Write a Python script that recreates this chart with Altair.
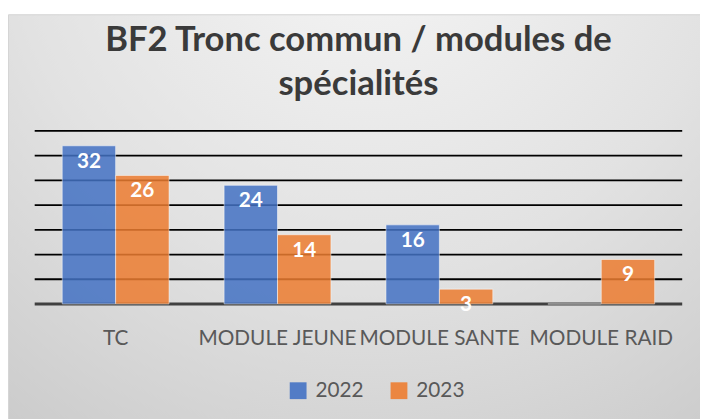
import altair as alt
import pandas as pd

categories = ["TC", "MODULE JEUNE", "MODULE SANTE", "MODULE RAID"]
years = ["2022", "2023"]
values_2022 = [32, 24, 16, 0]
values_2023 = [26, 14, 3, 9]
grid_values = [0, 5, 10, 15, 20, 25, 30, 35]
colors = ["#4472C4", "#ED7D31"]

rows = []
for i, c in enumerate(categories):
    rows.append({"cat": c, "year": years[0], "value": values_2022[i]})
    rows.append({"cat": c, "year": years[1], "value": values_2023[i]})
df = pd.DataFrame(rows)
grid_df = pd.DataFrame({"g": grid_values})

W, H = 655, 175

bg = alt.Chart(alt.Data(values=[{}])).mark_rect(
    fill=alt.RadialGradient(
        gradient="radial", x1=0.5, y1=0.05, r1=0, x2=0.5, y2=0.05, r2=1.0,
        stops=[alt.GradientStop(color="#f6f6f6", offset=0),
               alt.GradientStop(color="#e2e2e2", offset=0.5),
               alt.GradientStop(color="#c4c4c4", offset=1)]),
    stroke="#d4d4d4", strokeWidth=1,
).encode(x=alt.value(-26.5), x2=alt.value(700), y=alt.value(-117.5), y2=alt.value(320))

grid = alt.Chart(grid_df).mark_rule(color="#000000", strokeWidth=1.8).encode(
    y=alt.Y("g:Q", scale=alt.Scale(domain=[0, 35], nice=False), axis=None)
).transform_filter("datum.g > 0")

base_rule = alt.Chart(grid_df).mark_rule(color="#404040", strokeWidth=3).encode(
    y=alt.Y("g:Q", scale=alt.Scale(domain=[0, 35], nice=False), axis=None)
).transform_filter("datum.g == 0")

x_enc = alt.X("cat:N", sort=categories,
              scale=alt.Scale(paddingInner=0.34, paddingOuter=0.17),
              axis=alt.Axis(title=None, labelAngle=0, labelFont="Lato", labelFontSize=21,
                            labelColor="#595959", labelPadding=24, ticks=False, domain=False,
                            grid=False, zindex=1))
y_enc = alt.Y("value:Q", scale=alt.Scale(domain=[0, 35], nice=False), axis=None)
xo = alt.XOffset("year:N", sort=years)

bars = alt.Chart(df).mark_bar(opacity=0.85, stroke="#ffffff", strokeOpacity=0.55, strokeWidth=1).encode(
    x=x_enc, y=y_enc, xOffset=xo,
    color=alt.Color("year:N", scale=alt.Scale(domain=years, range=colors),
                    legend=alt.Legend(title=None, orient="none", legendX=256, legendY=252,
                                      direction="horizontal", symbolType="square",
                                      symbolSize=289, symbolStrokeWidth=0, symbolOpacity=0.9,
                                      labelFont="Lato", labelFontSize=21, labelColor="#595959",
                                      labelOffset=7, columnPadding=25, padding=0)),
)

labels = alt.Chart(df).mark_text(font="Lato", fontWeight="bold", fontSize=21, color="white",
                                 baseline="alphabetic", dy=22).encode(
    x=x_enc, y=y_enc, xOffset=xo, text=alt.Text("value:Q")
).transform_filter("datum.value > 0")

chart = alt.layer(bg, grid, base_rule, bars, labels).properties(
    width=W, height=H,
    autosize=alt.AutoSizeParams(type="none"),
    padding={"left": 27, "top": 122, "right": 18, "bottom": 114},
    title=alt.TitleParams(["BF2 Tronc commun / modules de", "spécialités"],
                          font="Lato", fontSize=35, fontWeight="bold", color="#3a3a3a",
                          anchor="middle", lineHeight=45, offset=-89),
    background="#ffffff",
).configure_view(stroke=None)

chart.save("out.html", embed_options={"renderer": "svg", "actions": False})
